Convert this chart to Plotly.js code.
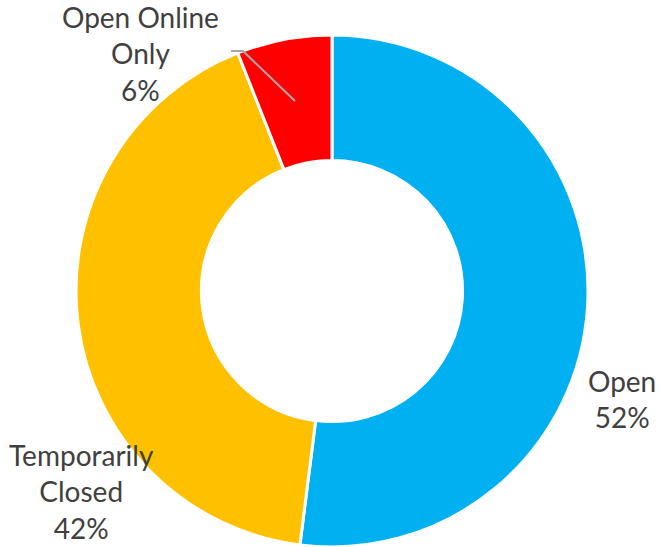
<!DOCTYPE html>
<html>
<head>
<meta charset="utf-8">
<script src="https://cdn.plot.ly/plotly-3.0.1.min.js"></script>
<style>html,body{margin:0;padding:0;background:#fff;}#chart{width:661px;height:547px;}</style>
</head>
<body>
<div id="chart"></div>
<script>
const categories = ["Open", "Temporarily Closed", "Open Online Only"];
const labelLines = [["Open"], ["Temporarily", "Closed"], ["Open Online", "Only"]];
const values = [52, 42, 6];
const colors = ["#00B0F0", "#FFC000", "#FF0000"];

const W = 661, H = 547;
const labelPos = [[622, 399], [81, 492], [140, 54]];

const trace = {
  type: "pie",
  labels: categories,
  values: values,
  sort: false,
  direction: "clockwise",
  rotation: 0,
  hole: 0.51,
  textinfo: "none",
  hoverinfo: "label+percent",
  marker: {colors: colors, line: {color: "#ffffff", width: 3}},
  domain: {x: [76 / W, 588 / W], y: [0, 1 - 35 / H]},
  showlegend: false
};

const total = values.reduce((a, b) => a + b, 0);
const annotations = categories.map((c, i) => ({
  text: labelLines[i].concat([Math.round(values[i] / total * 100) + "%"]).join("<br>"),
  x: labelPos[i][0] / W,
  y: 1 - labelPos[i][1] / H,
  xref: "paper", yref: "paper",
  xanchor: "center", yanchor: "middle",
  showarrow: false,
  align: "center",
  font: {family: "Lato, 'Open Sans', sans-serif", size: 28, color: "#404040"}
}));

const layout = {
  width: W, height: H,
  margin: {l: 0, r: 0, t: 0, b: 0},
  paper_bgcolor: "#ffffff",
  annotations: annotations,
  shapes: [{
    type: "path",
    xref: "paper", yref: "paper",
    path: "M " + (231 / W) + "," + (1 - 51 / H) + " L " + (243 / W) + "," + (1 - 51 / H) + " L " + (295 / W) + "," + (1 - 101 / H),
    line: {color: "#A6A6A6", width: 2}
  }]
};

Plotly.newPlot("chart", [trace], layout, {staticPlot: true});
</script>
</body>
</html>
